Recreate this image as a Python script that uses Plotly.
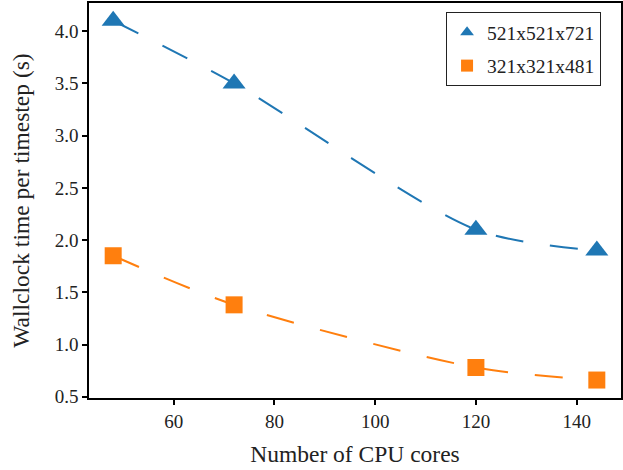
import plotly.graph_objects as go

cores = [48, 72, 120, 144]
t_large = [4.10, 3.50, 2.10, 1.90]
t_small = [1.85, 1.38, 0.78, 0.66]
name_large = "521x521x721"
name_small = "321x321x481"

blue = "#1f77b4"
orange = "#ff7f0e"
font = "Liberation Serif"

fig = go.Figure()
for y, name, color, sym, sz, lsz, grp in [(t_large, name_large, blue, "triangle-up", 20, 18, "a"),
                                          (t_small, name_small, orange, "square", 17, 17, "b")]:
    fig.add_trace(go.Scatter(
        x=cores, y=y, name=name, mode="lines+markers", showlegend=False,
        line=dict(color=color, width=2, dash="28px,27px", shape="spline", smoothing=0.8),
        marker=dict(symbol=sym, size=sz, color=color),
    ))
    fig.add_trace(go.Scatter(
        x=[None], y=[None], name=name, mode="markers", showlegend=True, legendgroup=grp,
        marker=dict(symbol=sym, size=lsz, color=color),
    ))

axis_common = dict(
    showline=True, linecolor="black", linewidth=1.5, mirror=True,
    ticks="outside", ticklen=5, tickwidth=1.5, tickcolor="black",
    showgrid=False, zeroline=False, automargin=False,
    tickfont=dict(family=font, size=19, color="#222"),
)
fig.update_xaxes(range=[43.2, 148.8], tickvals=[60, 80, 100, 120, 140],
                 title=dict(text="Number of CPU cores", font=dict(family=font, size=23.5, color="#222"), standoff=15),
                 **axis_common)
fig.update_yaxes(range=[0.488, 4.27], tickvals=[0.5, 1.0, 1.5, 2.0, 2.5, 3.0, 3.5, 4.0],
                 tickformat=".1f",
                 title=dict(text="Wallclock time per timestep (s)", font=dict(family=font, size=23.5, color="#222"), standoff=18),
                 **axis_common)

fig.update_layout(
    width=623, height=470, autosize=False,
    margin=dict(l=89, r=2, t=3, b=72),
    plot_bgcolor="white", paper_bgcolor="white",
    font=dict(family=font, color="#222"),
    showlegend=True,
    legend=dict(x=0.9625, y=0.977, xanchor="right", yanchor="top",
                bordercolor="#222", borderwidth=1, bgcolor="white",
                font=dict(family=font, size=19.5, color="#222"),
                itemsizing="constant", tracegroupgap=5),
)

fig.write_html("out.html", config={"responsive": False, "displayModeBar": False},
               post_script="document.body.style.margin='0';document.body.style.overflow='hidden';")
